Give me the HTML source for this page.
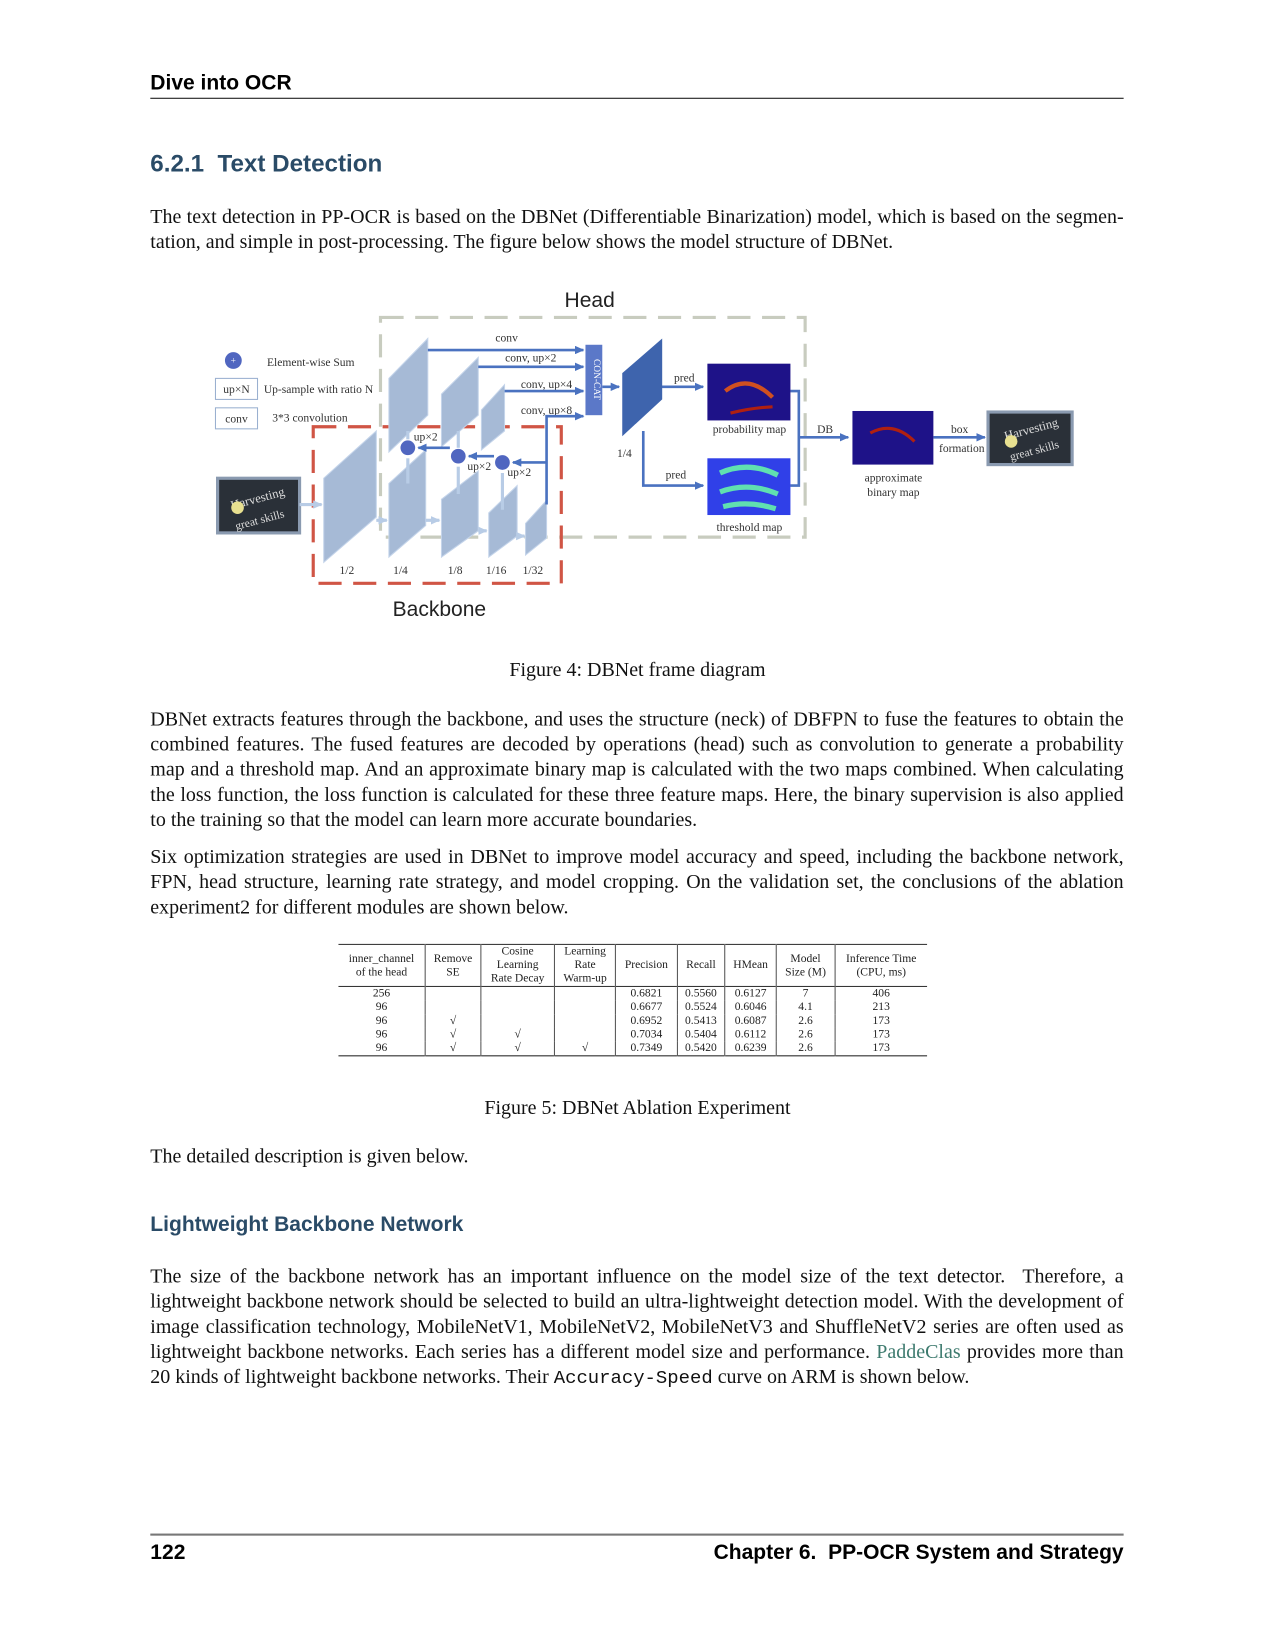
<!DOCTYPE html>
<html><head><meta charset="utf-8">
<style>
html,body{margin:0;padding:0;background:#fff;}
#wrap{position:relative;width:1275px;height:1650px;overflow:hidden;}
#pg{position:absolute;left:0;top:0;width:1213px;height:1570px;transform:scale(1.0511);transform-origin:0 0;}
.a{position:absolute;white-space:nowrap;}
.s{font-family:"Liberation Sans",sans-serif;}
.r{font-family:"Liberation Serif",serif;font-size:19px;color:#111;}
.ln{position:absolute;left:143px;width:926px;text-align:justify;text-align-last:justify;font-family:"Liberation Serif",serif;font-size:19px;line-height:24px;white-space:nowrap;color:#111;}
.ll{text-align-last:left;}
.h{color:#2a4b67;font-weight:bold;}
.rule{position:absolute;left:143px;width:926px;background:#111;}
table{border-collapse:collapse;font-family:"Liberation Serif",serif;font-size:11px;color:#222;}
td{text-align:center;padding:0 4px;line-height:13px;}
</style></head><body><div id="wrap"><div id="pg">
<div class="a s" style="left:143px;top:68px;font-size:20px;font-weight:bold;">Dive into OCR</div>
<div class="rule" style="top:93px;height:1.3px;"></div>
<div class="a s h" style="left:143px;top:142px;font-size:23px;">6.2.1&nbsp; Text Detection</div>
<div class="ln" style="top:195px;">The text detection in PP-OCR is based on the DBNet (Differentiable Binarization) model, which is based on the segmen-</div>
<div class="ln ll" style="top:219px;">tation, and simple in post-processing. The figure below shows the model structure of DBNet.</div>

<svg class="a" style="left:0;top:0" width="1213" height="620" viewBox="0 0 1213 620" font-family="Liberation Serif,serif">
<defs><marker id="ar" markerUnits="userSpaceOnUse" markerWidth="9" markerHeight="8" refX="8" refY="4" orient="auto"><path d="M0,0L9,4L0,8z" fill="#4a72c0"/></marker>
<marker id="al" markerUnits="userSpaceOnUse" markerWidth="9" markerHeight="8" refX="8" refY="4" orient="auto"><path d="M0,0L9,4L0,8z" fill="#b8cce6"/></marker></defs>
<text x="561" y="292" font-family="Liberation Sans,sans-serif" font-size="20" text-anchor="middle" fill="#222">Head</text>
<text x="418" y="586" font-family="Liberation Sans,sans-serif" font-size="20" text-anchor="middle" fill="#222">Backbone</text>
<rect x="362" y="302" width="404" height="209" fill="none" stroke="#c8ccbf" stroke-width="3" stroke-dasharray="22 11"/>
<rect x="298" y="406" width="236" height="149" fill="none" stroke="#d05545" stroke-width="3" stroke-dasharray="22 11"/>
<circle cx="222" cy="343" r="8" fill="#5066c0"/><text x="222" y="346" font-size="9" fill="#fff" text-anchor="middle">+</text>
<text x="254" y="348" font-size="11" fill="#333">Element-wise Sum</text>
<rect x="205" y="360" width="40" height="20" fill="#fff" stroke="#9ab0d0"/><text x="225" y="374" font-size="11" text-anchor="middle" fill="#333">up×N</text>
<text x="251" y="374" font-size="11" fill="#333">Up-sample with ratio N</text>
<rect x="205" y="388" width="40" height="20" fill="#fff" stroke="#9ab0d0"/><text x="225" y="402" font-size="11" text-anchor="middle" fill="#333">conv</text>
<text x="259" y="401" font-size="11" fill="#333">3*3 convolution</text>
<rect x="207" y="455" width="78" height="52" fill="#2a3038" stroke="#8a9ab0" stroke-width="3"/>
<text x="246" y="478" font-size="12" fill="#ddd" text-anchor="middle" transform="rotate(-15 246 478)">Harvesting</text>
<text x="248" y="498" font-size="11" fill="#ddd" text-anchor="middle" transform="rotate(-15 248 498)">great skills</text>
<circle cx="226" cy="483" r="6" fill="#e8e090"/>
<line x1="285" y1="480" x2="306" y2="480" stroke="#b8cce6" stroke-width="3" marker-end="url(#al)"/>
<g fill="#a6bad6" stroke="#c4d4ea" stroke-width="1">
<polygon points="308,455 358,410 358,492 308,535"/>
<polygon points="370,460 405,428 405,500 370,530"/>
<polygon points="420,475 455,448 455,505 420,530"/>
<polygon points="465,488 492,462 492,510 465,530"/>
<polygon points="500,498 520,476 520,512 500,528"/>
<polygon points="370,360 407,322 407,395 370,430"/>
<polygon points="420,375 455,340 455,395 420,425"/>
<polygon points="458,390 480,366 480,410 458,428"/>
</g>
<g stroke="#b8cce6" stroke-width="3" fill="none">
<line x1="358" y1="495" x2="368" y2="495" marker-end="url(#al)"/>
<line x1="405" y1="495" x2="418" y2="495" marker-end="url(#al)"/>
<line x1="455" y1="505" x2="463" y2="505" marker-end="url(#al)"/>
<line x1="492" y1="510" x2="499" y2="510" marker-end="url(#al)"/>
<line x1="388" y1="460" x2="388" y2="436"/><line x1="436" y1="470" x2="436" y2="444"/><line x1="478" y1="485" x2="478" y2="450"/>
<line x1="388" y1="418" x2="388" y2="410"/><line x1="436" y1="426" x2="436" y2="410"/>
</g>
<g font-size="11" fill="#333" text-anchor="middle">
<text x="330" y="546">1/2</text><text x="381" y="546">1/4</text><text x="433" y="546">1/8</text><text x="472" y="546">1/16</text><text x="507" y="546">1/32</text>
<text x="405" y="419">up×2</text><text x="456" y="447">up×2</text><text x="494" y="453">up×2</text>
<text x="482" y="325">conv</text><text x="505" y="344">conv, up×2</text><text x="520" y="369">conv, up×4</text><text x="520" y="394">conv, up×8</text>
<text x="594" y="435">1/4</text><text x="651" y="363">pred</text><text x="643" y="455">pred</text>
<text x="713" y="412">probability map</text><text x="713" y="505">threshold map</text>
<text x="785" y="412">DB</text><text x="850" y="458">approximate</text><text x="850" y="472">binary map</text>
<text x="913" y="412">box</text><text x="915" y="430">formation</text>
</g>
<g stroke="#4a72c0" stroke-width="2.5" fill="none">
<line x1="407" y1="333" x2="555" y2="333" marker-end="url(#ar)"/>
<line x1="455" y1="349" x2="555" y2="349" marker-end="url(#ar)"/>
<line x1="480" y1="372" x2="555" y2="372" marker-end="url(#ar)"/>
<polyline points="520,480 520,396 555,396" marker-end="url(#ar)"/>
<polyline points="520,440 488,440" marker-end="url(#ar)"/>
<polyline points="470,434 446,434" marker-end="url(#ar)"/>
<polyline points="428,426 398,426" marker-end="url(#ar)"/>
<line x1="573" y1="368" x2="589" y2="368" marker-end="url(#ar)"/>
<line x1="628" y1="368" x2="669" y2="368" marker-end="url(#ar)"/>
<polyline points="612,410 612,462 669,462" marker-end="url(#ar)"/>
<polyline points="752,372 760,372 760,462 752,462"/>
<line x1="760" y1="416" x2="807" y2="416" marker-end="url(#ar)"/>
<line x1="888" y1="416" x2="937" y2="416" marker-end="url(#ar)"/>
</g>
<circle cx="388" cy="426" r="7" fill="#5066c0"/><circle cx="436" cy="434" r="7" fill="#5066c0"/><circle cx="478" cy="440" r="7" fill="#5066c0"/>
<rect x="557" y="328" width="16" height="67" fill="#5b78c8"/>
<text x="565" y="361" font-size="9" fill="#fff" text-anchor="middle" transform="rotate(90 565 361)">CON-CAT</text>
<polygon points="592,355 630,322 630,380 592,415" fill="#3e64ad"/>
<rect x="673" y="346" width="79" height="54" fill="#1e1288"/>
<path d="M690,372 Q712,355 735,378" stroke="#d05020" stroke-width="4" fill="none"/><path d="M695,393 Q715,388 735,387" stroke="#b02010" stroke-width="3" fill="none"/>
<rect x="673" y="436" width="79" height="54" fill="#3040e8"/>
<path d="M685,450 Q712,438 740,452 M685,468 Q712,458 740,470 M688,482 Q712,476 738,484" stroke="#60e0b0" stroke-width="5" fill="none"/>
<rect x="811" y="391" width="77" height="51" fill="#1e1288"/>
<path d="M828,412 Q850,400 870,420" stroke="#b02010" stroke-width="3" fill="none"/>
<rect x="940" y="392" width="80" height="50" fill="#2a3038" stroke="#8a9ab0" stroke-width="3"/>
<text x="982" y="412" font-size="12" fill="#ddd" text-anchor="middle" transform="rotate(-15 982 412)">Harvesting</text>
<text x="985" y="432" font-size="11" fill="#ddd" text-anchor="middle" transform="rotate(-15 985 432)">great skills</text>
<circle cx="962" cy="420" r="6" fill="#e8e090"/>
</svg>

<div class="a r" style="left:0;width:1213px;text-align:center;top:627px;">Figure 4: DBNet frame diagram</div>
<div class="ln" style="top:673px;">DBNet extracts features through the backbone, and uses the structure (neck) of DBFPN to fuse the features to obtain the</div>
<div class="ln" style="top:697px;">combined features. The fused features are decoded by operations (head) such as convolution to generate a probability</div>
<div class="ln" style="top:721px;">map and a threshold map. And an approximate binary map is calculated with the two maps combined. When calculating</div>
<div class="ln" style="top:745px;">the loss function, the loss function is calculated for these three feature maps. Here, the binary supervision is also applied</div>
<div class="ln ll" style="top:769px;">to the training so that the model can learn more accurate boundaries.</div>
<div class="ln" style="top:804px;">Six optimization strategies are used in DBNet to improve model accuracy and speed, including the backbone network,</div>
<div class="ln" style="top:828px;">FPN, head structure, learning rate strategy, and model cropping. On the validation set, the conclusions of the ablation</div>
<div class="ln ll" style="top:852px;">experiment2 for different modules are shown below.</div>

<table class="a" style="left:322px;top:898px;width:560px;border-top:1px solid #333;border-bottom:1.5px solid #222;">
<tr style="border-bottom:1px solid #333;height:39px;">
<td style="border-right:1px solid #555">inner_channel<br>of the head</td><td style="border-right:1px solid #555">Remove<br>SE</td><td style="border-right:1px solid #555">Cosine<br>Learning<br>Rate Decay</td><td style="border-right:1px solid #555">Learning<br>Rate<br>Warm-up</td><td style="border-right:1px solid #555">Precision</td><td style="border-right:1px solid #555">Recall</td><td style="border-right:1px solid #555">HMean</td><td style="border-right:1px solid #555">Model<br>Size (M)</td><td>Inference Time<br>(CPU, ms)</td></tr>
<tr><td style="border-right:1px solid #555">256</td><td style="border-right:1px solid #555"></td><td style="border-right:1px solid #555"></td><td style="border-right:1px solid #555"></td><td style="border-right:1px solid #555">0.6821</td><td style="border-right:1px solid #555">0.5560</td><td style="border-right:1px solid #555">0.6127</td><td style="border-right:1px solid #555">7</td><td>406</td></tr>
<tr><td style="border-right:1px solid #555">96</td><td style="border-right:1px solid #555"></td><td style="border-right:1px solid #555"></td><td style="border-right:1px solid #555"></td><td style="border-right:1px solid #555">0.6677</td><td style="border-right:1px solid #555">0.5524</td><td style="border-right:1px solid #555">0.6046</td><td style="border-right:1px solid #555">4.1</td><td>213</td></tr>
<tr><td style="border-right:1px solid #555">96</td><td style="border-right:1px solid #555">√</td><td style="border-right:1px solid #555"></td><td style="border-right:1px solid #555"></td><td style="border-right:1px solid #555">0.6952</td><td style="border-right:1px solid #555">0.5413</td><td style="border-right:1px solid #555">0.6087</td><td style="border-right:1px solid #555">2.6</td><td>173</td></tr>
<tr><td style="border-right:1px solid #555">96</td><td style="border-right:1px solid #555">√</td><td style="border-right:1px solid #555">√</td><td style="border-right:1px solid #555"></td><td style="border-right:1px solid #555">0.7034</td><td style="border-right:1px solid #555">0.5404</td><td style="border-right:1px solid #555">0.6112</td><td style="border-right:1px solid #555">2.6</td><td>173</td></tr>
<tr><td style="border-right:1px solid #555">96</td><td style="border-right:1px solid #555">√</td><td style="border-right:1px solid #555">√</td><td style="border-right:1px solid #555">√</td><td style="border-right:1px solid #555">0.7349</td><td style="border-right:1px solid #555">0.5420</td><td style="border-right:1px solid #555">0.6239</td><td style="border-right:1px solid #555">2.6</td><td>173</td></tr>
</table>

<div class="a r" style="left:0;width:1213px;text-align:center;top:1044px;">Figure 5: DBNet Ablation Experiment</div>
<div class="a r" style="left:143px;top:1090px;">The detailed description is given below.</div>
<div class="a s h" style="left:143px;top:1154px;font-size:20px;">Lightweight Backbone Network</div>
<div class="ln" style="top:1203px;">The size of the backbone network has an important influence on the model size of the text detector.&nbsp; Therefore, a</div>
<div class="ln" style="top:1227px;">lightweight backbone network should be selected to build an ultra-lightweight detection model. With the development of</div>
<div class="ln" style="top:1251px;">image classification technology, MobileNetV1, MobileNetV2, MobileNetV3 and ShuffleNetV2 series are often used as</div>
<div class="ln" style="top:1275px;">lightweight backbone networks. Each series has a different model size and performance. <span style="color:#3d7a6e">PaddeClas</span> provides more than</div>
<div class="ln ll" style="top:1299px;">20 kinds of lightweight backbone networks. Their <span style="font-family:'Liberation Mono',monospace;font-size:18px;">Accuracy-Speed</span> curve on ARM is shown below.</div>

<div class="rule" style="top:1459px;height:1.5px;background:#777;"></div>
<div class="a s" style="left:143px;top:1466px;font-size:20px;font-weight:bold;">122</div>
<div class="a s" style="right:144px;top:1466px;font-size:20px;font-weight:bold;">Chapter 6.&nbsp; PP-OCR System and Strategy</div>
</div></div></body></html>
